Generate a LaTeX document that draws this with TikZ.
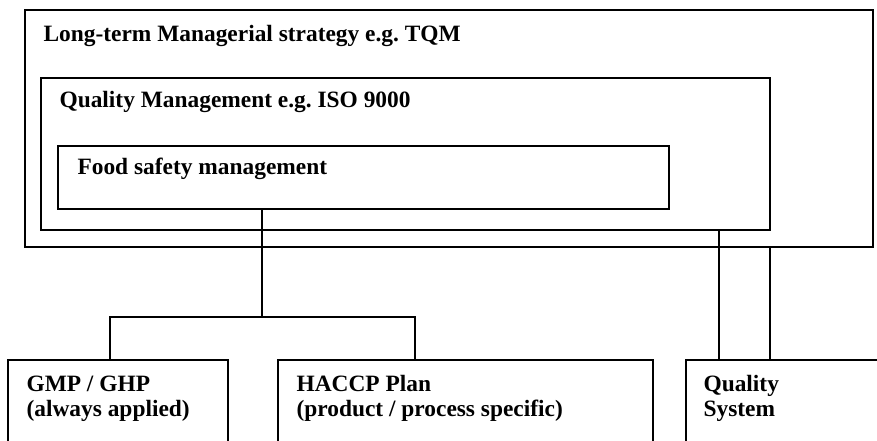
\documentclass[tikz,border=0pt]{standalone}
\usepackage{fontspec}
\setmainfont{Liberation Serif}
\usepackage{xcolor}
\usepackage{tikz}
\frenchspacing

\begin{document}
\begin{tikzpicture}[x=1pt, y=-1pt,
        box/.style={rectangle, draw, line width=1.3pt, inner sep=0pt},
        lbl/.style={anchor=base west, inner sep=0pt, align=left,
            font=\fontsize{23.4}{25}\selectfont\bfseries},
        link/.style={line width=1.3pt}]
        \useasboundingbox (0,0) rectangle (877,440);
        \clip (0,0) rectangle (877,440);

        % Define the nodes
        \node[box, minimum width=848pt, minimum height=237pt] (tqm) at (449, 128.5) {};
        \node[box, minimum width=729pt, minimum height=152pt] (qm) at (405.5, 154) {};
        \node[box, minimum width=611pt, minimum height=63pt] (fsm) at (363.5, 177.5) {};
        \node[box, minimum width=220pt, minimum height=110pt] (gmp) at (118, 415) {};
        \node[box, minimum width=375pt, minimum height=110pt] (haccp) at (465.5, 415) {};
        \node[box, minimum width=214pt, minimum height=110pt] (qs) at (793, 415) {};

        % Labels (two-line ones sit on their last baseline)
        \node[lbl] (tqmtext) at ([xshift=19pt, yshift=-32pt]tqm.north west) {Long-term Managerial strategy e.g. TQM};
        \node[lbl] (qmtext) at ([xshift=19pt, yshift=-30pt]qm.north west) {Quality Management e.g. ISO 9000};
        \node[lbl] (fsmtext) at ([xshift=20pt, yshift=-29pt]fsm.north west) {Food safety management};
        \node[lbl] (gmptext) at ([xshift=19pt, yshift=-57pt]gmp.north west) {GMP / GHP\\(always applied)};
        \node[lbl] (haccptext) at ([xshift=19pt, yshift=-57pt]haccp.north west) {HACCP Plan\\(product / process specific)};
        \node[lbl] (qstext) at ([xshift=18pt, yshift=-57pt]qs.north west) {Quality\\System};

        % Draw the links
        \coordinate (split) at (262, 317);
        \draw[link] (fsm.south -| split) -- (split);
        \draw[link] ([xshift=-8pt]gmp.north) |- (split) -| ([xshift=-50.5pt]haccp.north);
        \draw[link] ([xshift=-74pt]qs.north) -- ([xshift=-74pt]qs.north |- qm.south);
        \draw[link] ([xshift=-23pt]qs.north) -- ([xshift=-23pt]qs.north |- tqm.south);
\end{tikzpicture}
\end{document}
